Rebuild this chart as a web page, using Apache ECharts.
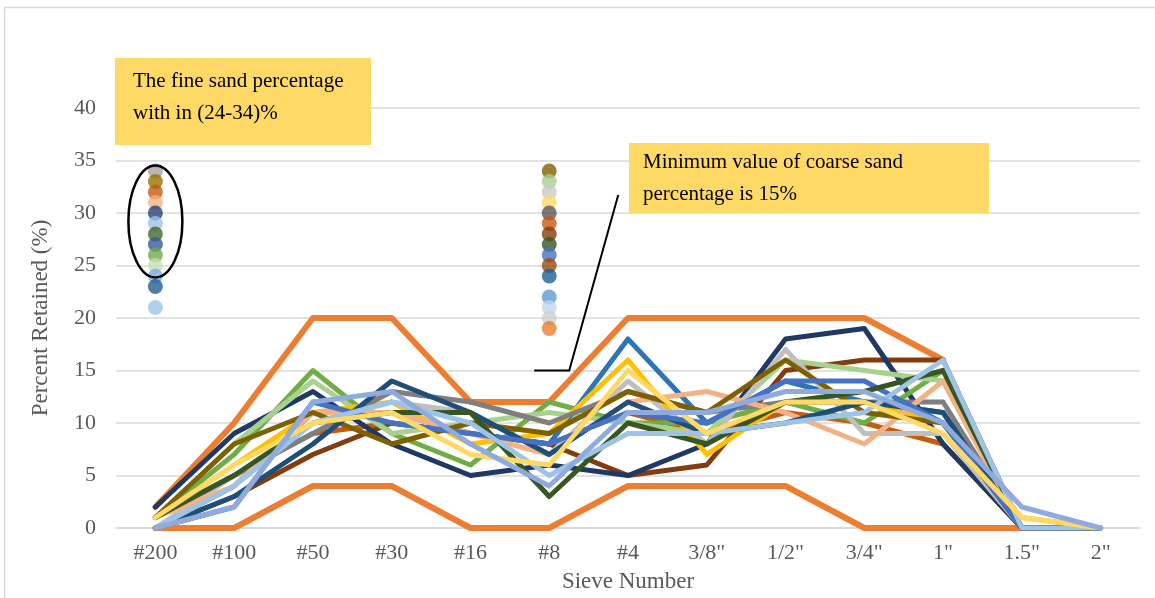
<!DOCTYPE html>
<html>
<head>
<meta charset="utf-8">
<script src="https://cdn.jsdelivr.net/npm/echarts@6/dist/echarts.min.js"></script>
<style>
  html, body { margin: 0; padding: 0; background: #fff; }
  #chart { width: 1155px; height: 598px; }
</style>
</head>
<body>
<div id="chart"></div>
<script>
// Sieve sizes along the x axis
const sieves = ['#200', '#100', '#50', '#30', '#16', '#8', '#4', '3/8"', '1/2"', '3/4"', '1"', '1.5"', '2"'];

// Specification envelope (percent retained)
const upperLimit = [2, 10, 20, 20, 12, 12, 20, 20, 20, 20, 16, null, null];
const lowerLimit = [0, 0, 4, 4, 0, 0, 4, 4, 4, 0, 0, 0, null];

// Percent retained for each sample
const sampleA = [2, 9, 13, 8, 5, 6, 5, 8, 18, 19, 8, 0, 0];
const sampleB = [0, 3, 7, 10, 9, 8, 5, 6, 15, 16, 16, 0, 0];
const sampleC = [1, 7, 15, 9, 6, 12, 10, 10, 12, 10, 15, 0, 0];
const sampleD = [1, 8, 14, 9, 10, 11, 10, 9, 16, 15, 14, 0, 0];
const sampleE = [0, 4, 11, 11, 9, 8, 18, 10, 14, 12, 11, 0, 0];
const sampleF = [1, 6, 11, 12, 8, 9, 16, 7, 12, 12, 10, 1, 0];
const sampleG = [1, 5, 9, 13, 12, 10, 13, 11, 12, 12, 12, 0, 0];
const sampleH = [0, 5, 10, 12, 11, 7, 14, 8, 17, 9, 9, 0, 0];
const sampleI = [1, 4, 11, 11, 9, 7, 12, 13, 11, 8, 14, 0, 0];
const sampleJ = [0, 2, 12, 13, 8, 4, 11, 11, 13, 13, 10, 2, 0];
const sampleK = [1, 5, 10, 11, 11, 3, 10, 8, 12, 13, 15, 0, 0];
const sampleL = [1, 8, 11, 8, 10, 9, 13, 11, 16, 11, 10, 0, 0];
const sampleM = [0, 3, 8, 14, 11, 7, 12, 9, 10, 12, 11, 0, 0];
const sampleN = [0, 2, 12, 10, 9, 8, 11, 10, 14, 14, 10, 0, 0];
const sampleO = [0, 4, 10, 12, 10, 5, 9, 9, 10, 11, 16, 0, 0];
const sampleP = [1, 6, 10, 11, 7, 6, 15, 9, 12, 12, 9, 1, 0];
const sampleQ = [1, 5, 9, 10, 9, 8, 11, 9, 11, 10, 8, 0, 0];

// Fine sand and coarse sand percentages of the samples
const fineSand = [34, 33, 32, 31, 30, 29, 28, 27, 26, 25, 24, 23, 21];
const coarseSand = [34, 33, 32, 31, 30, 29, 28, 27, 26, 25, 24, 22, 21, 20, 19];

// Y axis ticks
const yMin = 0, yMax = 40, yStep = 5;

// ---- styling (drawing order: earlier entries lie underneath) ----
const samples = [sampleQ, sampleB, sampleA, sampleC, sampleD, sampleE, sampleF, sampleG, sampleH, sampleI,
                 sampleL, sampleM, sampleN, sampleK, sampleO, sampleP, sampleJ];
const sampleColors = ['#C55A11', '#843C0C', '#1F3864', '#70AD47', '#A9D18E', '#2E75B6', '#FFC000', '#7F7F7F',
                      '#BFBFBF', '#F4B183', '#7F6000', '#1F4E79', '#4472C4', '#375623',
                      '#9DC3E6', '#FFD966', '#8FAADC'];
const fineColors = ['#A5A5A5', '#997300', '#C55A11', '#F4B183', '#264478', '#9DC3E6', '#43682B',
                    '#335AA1', '#70AD47', '#C5E0B4', '#7CAFDD', '#255E91', '#9DC3E6'];
const coarseColors = ['#7F6000', '#A9D18E', '#C9C9C9', '#FFD966', '#595959', '#C55A11', '#843C0C',
                      '#375623', '#4472C4', '#9E480E', '#1F5F99', '#5B9BD5', '#BDD7EE', '#D0D0D0', '#ED7D31'];

const FONT = '"Liberation Serif", "Times New Roman", serif';
const chart = echarts.init(document.getElementById('chart'));

const series = [];
const limitStyle = { color: '#ED7D31', width: 6, join: 'round', cap: 'round' };
series.push({ type: 'line', data: upperLimit, symbol: 'none', lineStyle: limitStyle, z: 2 });
series.push({ type: 'line', data: lowerLimit, symbol: 'none', lineStyle: limitStyle, z: 2 });
samples.forEach((s, i) => {
  series.push({ type: 'line', data: s, symbol: 'none',
    lineStyle: { color: sampleColors[i], width: 5, join: 'round', cap: 'round' }, z: 3 });
});
series.push({
  type: 'scatter', symbolSize: 15, z: 4,
  data: fineSand.map((v, i) => ({ value: [0, v], itemStyle: { color: fineColors[i] } }))
});
series.push({
  type: 'scatter', symbolSize: 15, z: 4,
  data: coarseSand.map((v, i) => ({ value: [5, v], itemStyle: { color: coarseColors[i] } }))
});

chart.setOption({
  animation: false,
  grid: { left: 116, right: 15, top: 108, bottom: 70 },
  xAxis: {
    type: 'category', data: sieves, boundaryGap: true,
    name: 'Sieve Number', nameLocation: 'middle', nameGap: 42,
    nameTextStyle: { fontFamily: FONT, fontSize: 23, color: '#595959' },
    axisLine: { show: true, lineStyle: { color: '#D9D9D9', width: 1.5 } },
    axisTick: { show: false },
    axisLabel: { fontFamily: FONT, fontSize: 22, color: '#595959', margin: 14 }
  },
  yAxis: {
    type: 'value', min: yMin, max: yMax, interval: yStep,
    name: 'Percent Retained (%)', nameLocation: 'middle', nameGap: 64,
    nameTextStyle: { fontFamily: FONT, fontSize: 23, color: '#595959' },
    axisLine: { show: false }, axisTick: { show: false },
    axisLabel: { fontFamily: FONT, fontSize: 22, color: '#595959', margin: 20 },
    splitLine: { lineStyle: { color: '#D9D9D9', width: 1.5 } }
  },
  series: series
});

// Annotations anchored to the axes
const ellC = chart.convertToPixel({ gridIndex: 0 }, [0, 29.2]);
const mark = chart.convertToPixel({ gridIndex: 0 }, [5, 15]);
const noteStyle = { fontFamily: FONT, fontSize: 21, fill: '#000', lineHeight: 32 };

chart.setOption({
  graphic: [
    { type: 'rect', shape: { x: 4.5, y: 7.5, width: 1170, height: 620 },
      style: { fill: 'none', stroke: '#D9D9D9', lineWidth: 1.5 }, z: 0, silent: true },
    { type: 'ellipse', shape: { cx: ellC[0], cy: ellC[1], rx: 27, ry: 56 },
      style: { fill: 'none', stroke: '#000', lineWidth: 2.5 }, z: 10 },
    { type: 'polyline', shape: { points: [[mark[0] - 15, mark[1]], [mark[0] + 20, mark[1]], [mark[0] + 69, 195]] },
      style: { stroke: '#000', lineWidth: 2, fill: 'none' }, z: 10 },
    { type: 'group', left: 115, top: 58, z: 10, children: [
      { type: 'rect', shape: { x: 0, y: 0, width: 256, height: 87 }, style: { fill: '#FFD966' } },
      { type: 'text', x: 18, y: 7, style: Object.assign({ text: 'The fine sand percentage\nwith in (24-34)%' }, noteStyle) }
    ]},
    { type: 'group', left: 629, top: 143, z: 10, children: [
      { type: 'rect', shape: { x: 0, y: 0, width: 360, height: 70 }, style: { fill: '#FFD966' } },
      { type: 'text', x: 14, y: 3, style: Object.assign({ text: 'Minimum value of coarse sand\npercentage is 15%' }, noteStyle) }
    ]}
  ]
});
</script>
</body>
</html>
